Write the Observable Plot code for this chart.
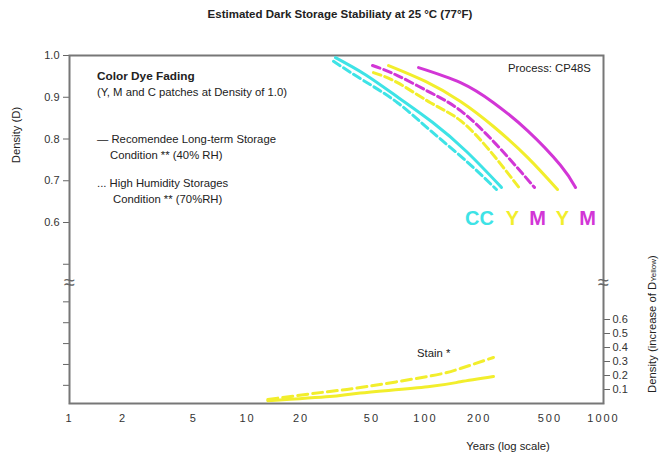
<!DOCTYPE html>
<html><head><meta charset="utf-8">
<script src="https://cdn.jsdelivr.net/npm/d3@7"></script>
<script src="https://cdn.jsdelivr.net/npm/@observablehq/plot@0.6"></script>
<style>
body{margin:0;background:#fff;font-family:"Liberation Sans",Arial,sans-serif;}
#wrap{position:relative;width:659px;height:453px;overflow:hidden;background:#fff;}
.t{position:absolute;font-size:11.3px;color:#222;white-space:nowrap;line-height:1;}
.rot{transform:translate(-50%,-50%) rotate(-90deg);}
.ctr{transform:translate(-50%,-50%);}
</style></head><body><div id="wrap"></div>
<script>
// ---- data ----
const xTicks = [1, 2, 5, 10, 20, 50, 100, 200, 500, 1000];
const leftTicks = [1.0, 0.9, 0.8, 0.7, 0.6];
const leftMinorTicks = [0.5, 0.41, 0.36, 0.31, 0.26, 0.21];
const stainTicks = [0.1, 0.2, 0.3, 0.4, 0.5, 0.6];

const cyanSolidYears = [31.2, 46.0, 70.5, 109.4, 169.9, 267.3];
const cyanSolidD     = [0.995, 0.954, 0.899, 0.840, 0.770, 0.684];
const cyanDashYears  = [30.4, 44.9, 69.6, 106.7, 163.4, 250.5];
const cyanDashD      = [0.986, 0.940, 0.887, 0.820, 0.753, 0.679];
const yellowDashYears = [51.0, 69.6, 106.7, 157.3, 231.8, 341.8];
const yellowDashD     = [0.959, 0.935, 0.887, 0.844, 0.770, 0.679];
const magentaDashYears = [50.4, 69.6, 106.7, 157.3, 247.3, 409.6];
const magentaDashD     = [0.976, 0.952, 0.911, 0.868, 0.789, 0.684];
const yellowSolidYears = [62.0, 100, 157.3, 241.0, 374.1, 551.6];
const yellowSolidD     = [0.976, 0.938, 0.890, 0.830, 0.756, 0.679];
const magentaSolidYears = [91.4, 157.3, 241.0, 374.1, 573.3, 696.6];
const magentaSolidD     = [0.971, 0.935, 0.887, 0.820, 0.737, 0.684];

const stainYears = [13, 29, 43, 103, 157, 241];
const stainSolid = [0.020, 0.050, 0.075, 0.120, 0.155, 0.193];
const stainDash  = [0.029, 0.086, 0.114, 0.193, 0.250, 0.329];

const endLabels = ["CC", "Y", "M", "Y", "M"];
const endLabelYears = [201, 308, 426, 588, 813];

const CYAN = "#3ee3e6", YELLOW = "#f2ee2c", MAGENTA = "#d236d6";

// ---- scale helpers ----
const yMin = 0.1665;          // bottom of frame in upper density units
const stainK = 0.3353;        // stain density -> upper density units
const toY = s => yMin + s * stainK;
const breakY = 0.455;
const tickLen = 0.0012;       // ~5px in y units

function rows(years, vals, key, color, map = v => v) {
  return years.map((yr, i) => ({year: yr, d: map(vals[i]), key, color}));
}
const solidRows = [
  ...rows(cyanSolidYears, cyanSolidD, "cs", CYAN),
  ...rows(yellowSolidYears, yellowSolidD, "ys", YELLOW),
  ...rows(magentaSolidYears, magentaSolidD, "ms", MAGENTA),
  ...rows(stainYears, stainSolid, "ss", YELLOW, toY)
];
const dashRows = [
  ...rows(cyanDashYears, cyanDashD, "cd", CYAN),
  ...rows(yellowDashYears, yellowDashD, "yd", YELLOW),
  ...rows(magentaDashYears, magentaDashD, "md", MAGENTA)
];
const stainDashRows = rows(stainYears, stainDash, "sd", YELLOW, toY);
const labelRows = endLabels.map((t, i) => ({t, year: endLabelYears[i], c: [CYAN, YELLOW, MAGENTA, YELLOW, MAGENTA][i]}));

const chart = Plot.plot({
  width: 659, height: 453,
  marginTop: 55, marginBottom: 50, marginLeft: 69, marginRight: 56,
  x: {type: "log", domain: [1, 1000], axis: null},
  y: {domain: [yMin, 1]},
  style: {fontFamily: "Liberation Sans, Arial, sans-serif", fontSize: "11px", color: "#333", background: "white"},
  marks: [
    Plot.ruleX(xTicks, {x: d => d, y1: yMin, y2: yMin - tickLen, stroke: "#666", strokeWidth: 1.5}),
    Plot.text(xTicks, {x: d => d, y: yMin, dy: 15, text: d => String(d), fill: "#333"}),
    Plot.axisY({ticks: leftTicks, tickFormat: d => d.toFixed(1), tickSize: 6, tickPadding: 4, label: null, stroke: "#666"}),
    Plot.axisY({ticks: leftMinorTicks, tickFormat: () => "", tickSize: 6, label: null, stroke: "#666"}),
    Plot.axisY({anchor: "right", ticks: stainTicks.map(toY), tickFormat: d => ((d - yMin) / stainK).toFixed(1), tickSize: 6, tickPadding: 3, label: null, stroke: "#666"}),
    Plot.frame({stroke: "#777", strokeWidth: 2}),
    Plot.line(solidRows, {x: "year", y: "d", z: "key", stroke: "color", strokeWidth: 3, curve: "natural"}),
    Plot.line(dashRows, {x: "year", y: "d", z: "key", stroke: "color", strokeWidth: 3, strokeDasharray: "8,4", curve: "natural"}),
    Plot.line(stainDashRows, {x: "year", y: "d", z: "key", stroke: "color", strokeWidth: 3, strokeDasharray: "10,5", curve: "natural"}),
    Plot.text(labelRows, {x: "year", y: 0.61, text: "t", fill: "c", fontSize: 20, fontWeight: "bold"}),
    Plot.text([1, 1000], {x: d => d, y: breakY, text: () => "≈", fontSize: 20, fill: "#666"})
  ]
});
const wrap = document.getElementById("wrap");
wrap.appendChild(chart);

// spaced digits on the x tick labels, as in the reference
const xTickStrs = xTicks.map(String);
d3.select(chart).selectAll("text").each(function () {
  if (xTickStrs.includes(this.textContent)) {
    const b = this.getBBox();
    const m = this.getCTM();
    if (m && m.f + b.y > 405) this.style.letterSpacing = "2px";
  }
});

const notes = [
  {html: "Estimated Dark Storage Stabiliaty at 25 °C (77°F)", x: 340, y: 15, cls: "ctr", style: "font-weight:bold;font-size:11.5px;"},
  {html: "Density (D)", x: 17, y: 135, cls: "rot"},
  {html: "Density (increase of D<span style='font-size:8px'>Yellow</span>)", x: 653, y: 324, cls: "rot"},
  {html: "Years (log scale)", x: 508, y: 447, cls: "ctr"},
  {html: "Color Dye Fading", x: 97, y: 71, style: "font-weight:bold;font-size:11.8px;"},
  {html: "(Y, M and C patches at Density of 1.0)", x: 97, y: 87},
  {html: "— Recomendee Long-term Storage", x: 97, y: 134},
  {html: "Condition ** (40% RH)", x: 110, y: 150},
  {html: "... High Humidity Storages", x: 97, y: 178},
  {html: "Condition ** (70%RH)", x: 113, y: 194},
  {html: "Process: CP48S", x: 508, y: 63},
  {html: "Stain *", x: 417, y: 348}
];
for (const n of notes) {
  const el = document.createElement("div");
  el.className = "t " + (n.cls || "");
  el.style.cssText += `left:${n.x}px;top:${n.y}px;` + (n.style || "");
  el.innerHTML = n.html;
  wrap.appendChild(el);
}
</script></body></html>
